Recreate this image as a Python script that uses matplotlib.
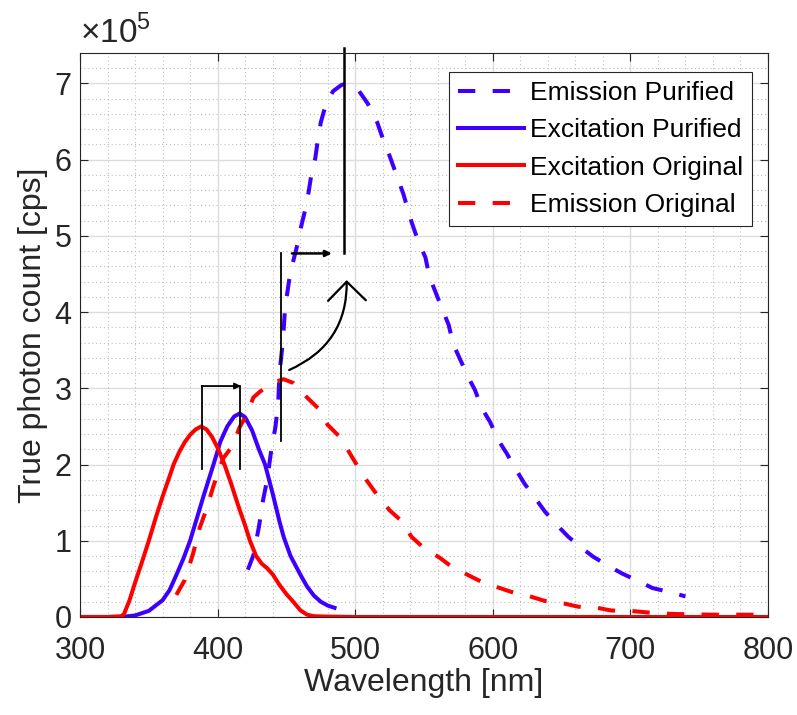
import numpy as np
import matplotlib
matplotlib.use("Agg")
from matplotlib import pyplot as plt
from matplotlib.patches import FancyArrowPatch
from matplotlib.ticker import MultipleLocator

plt.rcParams['font.family'] = ['Liberation Sans', 'DejaVu Sans']
plt.rcParams['mathtext.fontset'] = 'custom'
plt.rcParams['mathtext.rm'] = 'Liberation Sans'

# ---------------------------- data (counts in units of 1e5) ----------------------------
exc_orig_wl = [300, 320, 330, 332, 336, 340, 345, 350, 355, 360, 365, 368, 372, 376, 380, 384,
               388, 392, 396, 400, 405, 410, 415, 420, 423.5, 428, 432, 436, 440, 445, 450,
               455, 460, 465, 470, 480, 500, 600, 700, 800]
exc_orig_val = [0.0, 0.0, 0.01, 0.04, 0.22, 0.45, 0.72, 1.0, 1.3, 1.58, 1.84, 2.0, 2.16, 2.29,
                2.39, 2.46, 2.5, 2.46, 2.36, 2.22, 2.0, 1.74, 1.46, 1.2, 1.0, 0.8, 0.7, 0.64,
                0.56, 0.42, 0.3, 0.2, 0.09, 0.03, 0.01, 0.005, 0.0, 0.0, 0.0, 0.0]

exc_pur_wl = [300, 320, 330, 340, 350, 360, 365, 370, 375, 380, 385, 390, 397, 402, 407, 412,
              416, 420, 425, 430, 434.5, 440, 445, 448, 453, 460, 465, 470, 475, 480, 485]
exc_pur_val = [0.0, 0.0, 0.0, 0.02, 0.08, 0.22, 0.35, 0.55, 0.76, 1.0, 1.3, 1.6, 2.0, 2.3, 2.5,
               2.63, 2.67, 2.62, 2.45, 2.2, 2.0, 1.62, 1.25, 1.05, 0.8, 0.56, 0.4, 0.28, 0.2,
               0.15, 0.12]

em_orig_wl = [370, 376, 382, 387, 392, 397, 404, 411, 416, 421, 426, 431, 436, 441, 448, 455,
              465, 473, 480, 489, 496, 502, 508, 516, 525, 533, 541, 549, 562, 570, 582, 592,
              605, 615, 627, 638, 651, 662, 676, 686, 700, 712, 730, 760, 800]
em_orig_val = [0.29, 0.48, 0.82, 1.17, 1.42, 1.72, 2.08, 2.25, 2.49, 2.65, 2.88, 2.96, 3.02,
               3.08, 3.12, 3.07, 2.88, 2.74, 2.52, 2.36, 2.15, 1.97, 1.8, 1.6, 1.4, 1.27, 1.05,
               0.92, 0.77, 0.66, 0.55, 0.46, 0.38, 0.32, 0.27, 0.21, 0.18, 0.135, 0.12, 0.085,
               0.08, 0.06, 0.04, 0.03, 0.03]

em_pur_wl = [422, 426, 430, 433, 436, 439, 442, 444, 445, 447.5, 449, 452, 454, 457.5, 460,
             463.5, 466, 468, 471, 473, 475, 479, 484, 490, 494, 498, 502, 509, 516, 520, 525,
             530, 535, 541, 546, 551, 554, 558, 563, 568, 571, 576, 582, 587, 592, 598, 604,
             610, 617, 623, 632, 638, 648, 655, 665, 673, 685, 694, 707, 716, 730, 740]
em_pur_val = [0.62, 0.81, 1.18, 1.53, 1.8, 2.19, 2.49, 2.8, 3.2, 3.63, 4.05, 4.42, 4.6, 4.85,
              5.07, 5.33, 5.56, 5.79, 6.02, 6.28, 6.49, 6.75, 6.9, 6.98, 7.0, 6.99, 6.92, 6.74,
              6.49, 6.28, 6.05, 5.8, 5.55, 5.18, 4.92, 4.72, 4.46, 4.28, 4.05, 3.83, 3.59, 3.39,
              3.15, 2.98, 2.74, 2.56, 2.32, 2.15, 1.93, 1.75, 1.53, 1.38, 1.18, 1.05, 0.9, 0.79,
              0.66, 0.57, 0.46, 0.38, 0.32, 0.27]

blue = '#3c00ff'
red = '#ff0000'

fig = plt.figure(figsize=(7.97, 7.15), dpi=100)
ax = fig.add_axes([0.1004, 0.1371, 0.8632, 0.7888])

lw = 2.9
dash = (4.3, 4.3)
ax.plot(em_pur_wl, em_pur_val, color=blue, lw=lw, dashes=dash, label='Emission Purified')
ax.plot(exc_pur_wl, exc_pur_val, color=blue, lw=lw, label='Excitation Purified')
ax.plot(exc_orig_wl, exc_orig_val, color=red, lw=lw, label='Excitation Original')
ax.plot(em_orig_wl, em_orig_val, color=red, lw=lw, dashes=dash, label='Emission Original')

ax.set_xlim(300, 800)
ax.set_ylim(0, 7.4)
ax.xaxis.set_major_locator(MultipleLocator(100))
ax.xaxis.set_minor_locator(MultipleLocator(20))
ax.yaxis.set_major_locator(MultipleLocator(1))
ax.yaxis.set_minor_locator(MultipleLocator(0.2))
ax.grid(which='major', color='#dcdcdc', lw=1.0, ls='-')
ax.grid(which='minor', color='#bdbdbd', lw=0.8, ls=(0, (1, 2.5)))
ax.set_axisbelow(True)
ax.tick_params(which='both', direction='in', top=True, right=True, colors='#262626',
               labelsize=22)
ax.tick_params(axis='x', pad=14)
ax.tick_params(axis='y', pad=6)
ax.tick_params(which='major', length=6, width=0.8)
ax.tick_params(which='minor', length=0)
for s in ax.spines.values():
    s.set_color('#262626')
    s.set_linewidth(0.8)

ax.set_xlabel('Wavelength [nm]', fontsize=23, color='#262626', labelpad=1)
ax.set_ylabel('True photon count [cps]', fontsize=23, color='#262626', labelpad=5)
ax.text(0.0, 1.018, r'$\times$10$^{5}$', transform=ax.transAxes, fontsize=24,
        color='#262626', ha='left', va='baseline')

leg = ax.legend(loc='upper right', bbox_to_anchor=(0.9767, 0.9663), borderaxespad=0,
                fontsize=19, handlelength=2.5, handletextpad=0.2, labelspacing=0.5,
                borderpad=0.35, fancybox=False, framealpha=1, edgecolor='#262626')
leg.get_frame().set_linewidth(0.8)

# ---------------------------- annotations ----------------------------
k = dict(color='k', lw=1.3, clip_on=False)
ax.plot([388.4, 388.4], [1.94, 3.03], **k)
ax.plot([416, 416], [1.94, 3.03], **k)
ax.annotate('', xy=(417, 3.03), xytext=(388.4, 3.03),
            arrowprops=dict(arrowstyle='-|>', color='k', lw=1.3, mutation_scale=9,
                            shrinkA=0, shrinkB=0))
ax.plot([445.8, 445.8], [2.31, 4.77], **k)
ax.annotate('', xy=(483, 4.77), xytext=(454, 4.77),
            arrowprops=dict(arrowstyle='-|>', color='k', lw=1.8, mutation_scale=9,
                            shrinkA=0, shrinkB=0))
ax.plot([491.5, 491.5], [4.77, 7.47], color='k', lw=1.8, clip_on=False)

curve = FancyArrowPatch((452, 3.24), (493.8, 4.42), connectionstyle='arc3,rad=0.33',
                        arrowstyle='->,head_length=0.4,head_width=0.4', mutation_scale=34,
                        color='k', lw=1.6, shrinkA=0, shrinkB=0)
ax.add_patch(curve)

fig.savefig('out.png', dpi=100)
